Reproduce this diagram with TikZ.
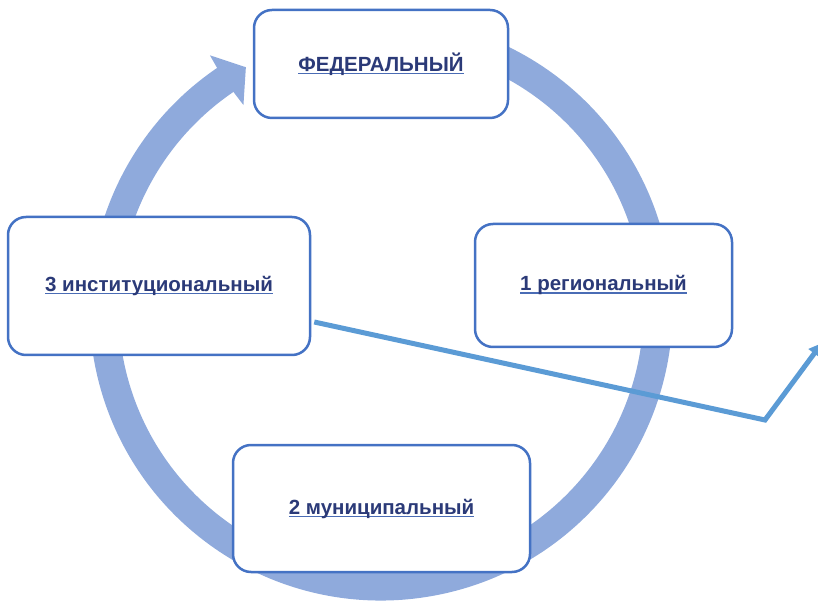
\documentclass[tikz,border=0pt]{standalone}
\usepackage{fontspec}
\setmainfont{Liberation Sans}
\usetikzlibrary{arrows.meta,calc}
\definecolor{ringc}{HTML}{8FAADC}
\definecolor{boxc}{HTML}{4472C4}
\definecolor{txtc}{HTML}{2B3A78}
\definecolor{ulc}{HTML}{4A6CB5}
\definecolor{linec}{HTML}{5B9BD5}
\newcommand{\ulx}[1]{\setbox0\hbox{#1}\rlap{\color{ulc}\rule[-3pt]{\wd0}{1.5pt}}\box0}
\tikzset{
  levelbox/.style={draw=boxc, line width=2.5pt, fill=white, rounded corners=18pt,
    minimum width=#1, align=center, font=\fontsize{20.5}{24}\selectfont\bfseries, text=txtc},
  ring/.style={line width=29pt, draw=ringc},
  conn/.style={draw=linec, line width=5pt, -{Triangle[length=13pt,width=14pt]}}
}
\begin{document}
\begin{tikzpicture}[x=1pt,y=1pt]
\useasboundingbox (0,0) rectangle (818,605);
% ring arrow
\coordinate (c) at (381,296);
\draw[ring] ($(c)+(100:277)$) arc[start angle=100, end angle=-236, radius=277];
\fill[ringc] ($(c)+(124:306)$) -- ($(c)+(119.2:277)$) -- ($(c)+(124:246)$) -- ($(c)+(124.2:262)$) -- ($(c)+(124.2:292)$) -- cycle;
% boxes
\node[levelbox=254pt, minimum height=108pt] (fed) at (381,541) {\ulx{ФЕДЕРАЛЬНЫЙ}};
\node[levelbox=302pt, minimum height=138pt] (inst) at (159,319) {\ulx{3 институциональный}};
\node[levelbox=257pt, minimum height=123pt] (reg) at (603.5,319.5) {\ulx{1 региональный}};
\node[levelbox=297pt, minimum height=127pt] (mun) at (381.5,96.5) {\ulx{2 муниципальный}};
% connector
\coordinate (bend) at (765,185);
\coordinate (tip) at (822,262);
\draw[conn] ([shift={(3,-36)}]inst.east) -- (bend) -- (tip);
\end{tikzpicture}
\end{document}
